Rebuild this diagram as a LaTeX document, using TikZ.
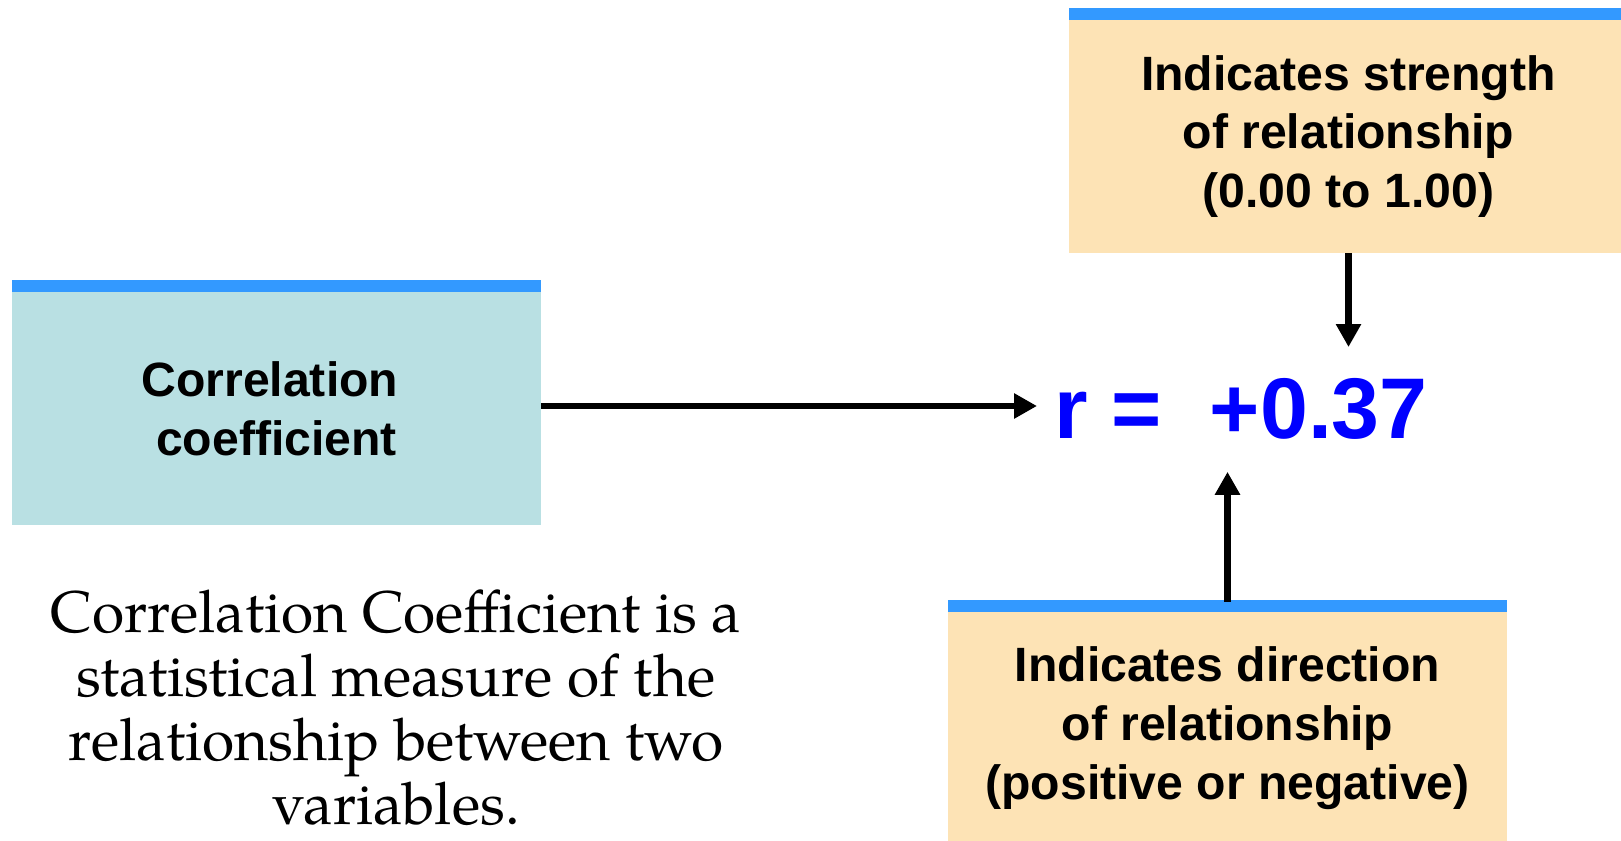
\documentclass[tikz,border=0pt]{standalone}
\usepackage{fontspec}
\setmainfont{Liberation Sans}
\newfontfamily\palfont{TeX Gyre Pagella}
\usepackage{tikz}
\usetikzlibrary{arrows.meta}
\usepackage{xcolor}
\definecolor{barblue}{RGB}{51,153,255}
\definecolor{tealbox}{RGB}{185,224,227}
\definecolor{sandbox}{RGB}{253,227,181}

\begin{document}
\begin{tikzpicture}[
  panel/.style={fill=#1, minimum height=4.66cm, inner sep=0pt, align=center,
    font=\fontsize{27.4}{33.5}\selectfont\bfseries},
  arr/.style={line width=3.9pt, -{Triangle[width=0.48cm,length=0.46cm]}}]
  \useasboundingbox (0,0) rectangle (32.42,16.8);

  \node[panel=tealbox, minimum width=10.58cm] (cbox) at (5.53,8.63) {Correlation\hphantom{\ }\\coefficient};
  \node[panel=sandbox, minimum width=11.18cm] (sbox) at (26.97,14.07) {Indicates strength\\of relationship\\(0.00 to 1.00)};
  \node[panel=sandbox, minimum width=11.18cm] (dbox) at (24.55,2.23) {Indicates direction\\of relationship\\(positive or negative)};
  \foreach \b in {cbox,sbox,dbox}
    \fill[barblue] (\b.north west) rectangle ([yshift=0.24cm]\b.north east);

  \node[text=blue, font=\fontsize{49}{50}\selectfont\bfseries, inner xsep=0.34cm, inner ysep=0.63cm, anchor=base west] (rval) at (20.74,8.02) {r = \ +0.37};

  \node[font=\palfont\fontsize{33.4}{36.4}\selectfont, align=center, inner sep=0pt] (defn) at (7.92,2.65)
    {Correlation Coefficient is a\\statistical measure of the\\relationship between two\\variables.};

  \draw[arr] ([yshift=0.05cm]cbox.east) -- ([yshift=0.05cm]cbox.east -| rval.west);
  \draw[arr] (sbox.south) -- (sbox.south |- rval.north);
  \draw[arr] ([yshift=0.2cm]dbox.north) -- (dbox.north |- rval.south);
\end{tikzpicture}
\end{document}
